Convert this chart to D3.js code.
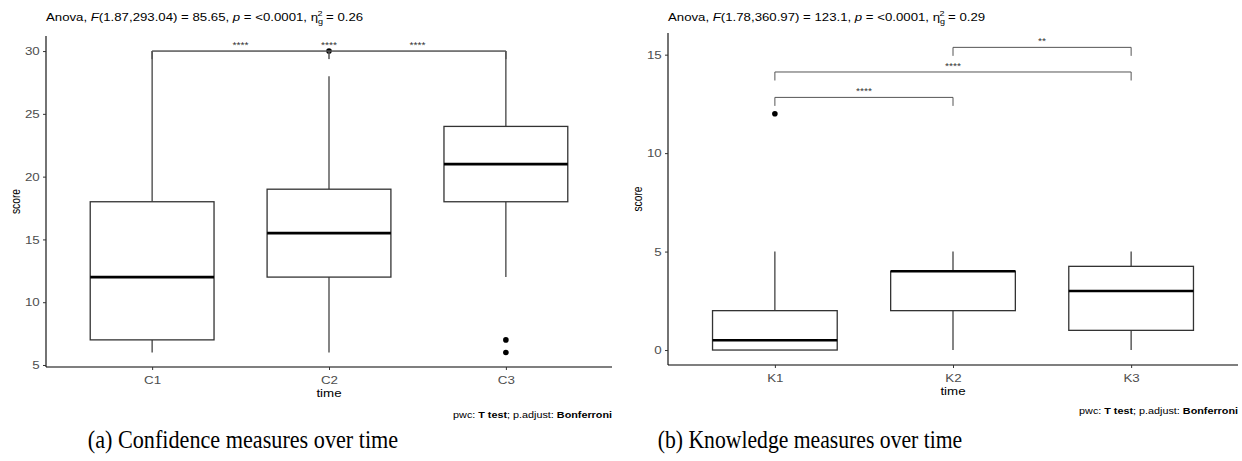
<!DOCTYPE html>
<html>
<head>
<meta charset="utf-8">
<script src="https://cdn.jsdelivr.net/npm/d3@7"></script>
<style>
  body { margin: 0; background: #fff; }
  svg { display: block; }
</style>
</head>
<body>
<script>
// panel (a) data - confidence scores
var confCategories = ["C1", "C2", "C3"];
var confLow    = [6, 6, 12];
var confQ1     = [7, 12, 18];
var confMedian = [12, 15.5, 21];
var confQ3     = [18, 19, 24];
var confHigh   = [30, 28, 30];
var confOutliers = [["C2", 30], ["C3", 7], ["C3", 6]];
var confBrackets = [["C1", "C2", 30, "****"], ["C1", "C3", 30, "****"], ["C2", "C3", 30, "****"]];
var confTicks = [5, 10, 15, 20, 25, 30];

// panel (b) data - knowledge scores
var knowCategories = ["K1", "K2", "K3"];
var knowLow    = [0, 0, 0];
var knowQ1     = [0, 2, 1];
var knowMedian = [0.5, 4, 3];
var knowQ3     = [2, 4, 4.25];
var knowHigh   = [5, 5, 5];
var knowOutliers = [["K1", 12]];
var knowBrackets = [["K1", "K2", 12.83, "****"], ["K1", "K3", 14.12, "****"], ["K2", "K3", 15.37, "**"]];
var knowTicks = [0, 5, 10, 15];

var SANS = "Liberation Sans, Arial, sans-serif";
var SX = 1.14; // the plots in the figure are a bit stretched sideways

var svg = d3.select("body").append("svg")
  .attr("width", 1242)
  .attr("height", 461);

// text placed at x,y and stretched horizontally
function sText(g, x, y, sx, size) {
  return g.append("text")
    .attr("transform", "translate(" + x + "," + y + ") scale(" + sx + ",1)")
    .style("font-family", SANS).style("font-size", size).attr("fill", "#000");
}

function drawPanel(p) {
  var x = d3.scalePoint().domain(p.cats).range([p.left, p.right]).padding(0.6);
  var y = d3.scaleLinear().domain(p.yDomain).range([p.bottom, p.top]);
  var half = x.step() * 0.35;
  var g = svg.append("g");

  // axes
  var ya = g.append("g").attr("transform", "translate(" + p.left + ",0)")
    .call(d3.axisLeft(y).tickValues(p.ticks).tickSize(3).tickSizeOuter(0));
  var xa = g.append("g").attr("transform", "translate(0," + p.bottom + ")")
    .call(d3.axisBottom(x).tickSize(3).tickSizeOuter(0));
  [ya, xa].forEach(function(a) {
    a.select(".domain").attr("stroke", "#000").attr("stroke-width", 1.1);
    a.selectAll(".tick line").attr("stroke", "#333");
    a.selectAll(".tick text").attr("fill", "#4d4d4d")
      .style("font-family", SANS).style("font-size", "11.7px");
  });
  ya.select(".domain").attr("d", "M0," + p.bottom + "V" + p.top);
  xa.select(".domain").attr("d", "M" + p.left + ",0H" + p.right);
  ya.selectAll(".tick text").attr("x", -5.5).attr("transform", "scale(" + SX + ",1)");
  xa.selectAll(".tick text").attr("dy", "0.9em").attr("transform", "scale(" + SX + ",1)");

  // whiskers and boxes
  p.cats.forEach(function(c, i) {
    g.append("line").attr("x1", x(c)).attr("x2", x(c))
      .attr("y1", y(p.q3[i])).attr("y2", y(p.high[i]))
      .attr("stroke", "#333").attr("stroke-width", 1.2);
    g.append("line").attr("x1", x(c)).attr("x2", x(c))
      .attr("y1", y(p.q1[i])).attr("y2", y(p.low[i]))
      .attr("stroke", "#333").attr("stroke-width", 1.2);
    g.append("rect")
      .attr("x", x(c) - half).attr("width", 2 * half)
      .attr("y", y(p.q3[i])).attr("height", y(p.q1[i]) - y(p.q3[i]))
      .attr("fill", "#fff").attr("stroke", "#333").attr("stroke-width", 1.3);
    g.append("line").attr("x1", x(c) - half).attr("x2", x(c) + half)
      .attr("y1", y(p.med[i])).attr("y2", y(p.med[i]))
      .attr("stroke", "#000").attr("stroke-width", 2.6);
  });

  // outliers
  g.selectAll(".out").data(p.outliers).enter().append("circle")
    .attr("cx", function(d) { return x(d[0]); })
    .attr("cy", function(d) { return y(d[1]); })
    .attr("r", 2.8).attr("fill", "#000");

  // significance brackets
  p.brackets.forEach(function(b) {
    var yy = y(b[2]);
    g.append("path")
      .attr("d", "M" + x(b[0]) + "," + (yy + p.tip) + "V" + yy + "H" + x(b[1]) + "V" + (yy + p.tip))
      .attr("fill", "none").attr("stroke", "#555").attr("stroke-width", 1);
    sText(g, (x(b[0]) + x(b[1])) / 2, yy - 3, SX, "9px")
      .attr("text-anchor", "middle").attr("fill", "#333").text(b[3]);
  });

  // title
  var t = sText(g, p.left, 20.5, 1.13, "11.7px");
  t.append("tspan").text("Anova, ");
  t.append("tspan").attr("font-style", "italic").text("F");
  t.append("tspan").text(p.fText + ", ");
  t.append("tspan").attr("font-style", "italic").text("p");
  t.append("tspan").text(" = <0.0001, η");
  t.append("tspan").attr("dy", 3).style("font-size", "8px").text("g");
  t.append("tspan").attr("dx", -5).attr("dy", -8).style("font-size", "8px").text("2");
  t.append("tspan").attr("dy", 5).text(" = " + p.eta);

  // axis titles
  g.append("text")
    .attr("transform", "translate(" + p.yLabX + "," + ((p.top + p.bottom) / 2) + ") rotate(-90) scale(0.88,1.15)")
    .attr("text-anchor", "middle").attr("fill", "#000")
    .style("font-family", SANS).style("font-size", "11.7px").text("score");
  sText(g, (p.left + p.right) / 2, p.bottom + 29.5, SX, "11.7px")
    .attr("text-anchor", "middle").text("time");

  // test note
  var c = sText(g, p.right, p.pwcY, 1.15, "9.4px").attr("text-anchor", "end");
  c.append("tspan").text("pwc: ");
  c.append("tspan").attr("font-weight", "bold").text("T test");
  c.append("tspan").text("; p.adjust: ");
  c.append("tspan").attr("font-weight", "bold").text("Bonferroni");

  // subfigure caption
  g.append("text")
    .attr("transform", "translate(" + p.capX + ",448) scale(" + p.capSX + ",1)")
    .attr("text-anchor", "middle")
    .style("font-family", "Liberation Serif, Times New Roman, serif").style("font-size", "25.5px")
    .attr("fill", "#000").text(p.caption);
}

drawPanel({
  cats: confCategories, low: confLow, q1: confQ1, med: confMedian, q3: confQ3, high: confHigh,
  outliers: confOutliers, brackets: confBrackets, ticks: confTicks,
  left: 46, right: 612, top: 36, bottom: 367, yDomain: [4.84, 31.2],
  tip: 8, fText: "(1.87,293.04) = 85.65", eta: "0.26",
  yLabX: 20, pwcY: 418, capX: 243, capSX: 0.87, caption: "(a)  Confidence measures over time"
});

drawPanel({
  cats: knowCategories, low: knowLow, q1: knowQ1, med: knowMedian, q3: knowQ3, high: knowHigh,
  outliers: knowOutliers, brackets: knowBrackets, ticks: knowTicks,
  left: 668, right: 1238, top: 33, bottom: 365, yDomain: [-0.76, 16.1],
  tip: 8.5, fText: "(1.78,360.97) = 123.1", eta: "0.29",
  yLabX: 642, pwcY: 414, capX: 810, capSX: 0.85, caption: "(b) Knowledge measures over time"
});
</script>
</body>
</html>
